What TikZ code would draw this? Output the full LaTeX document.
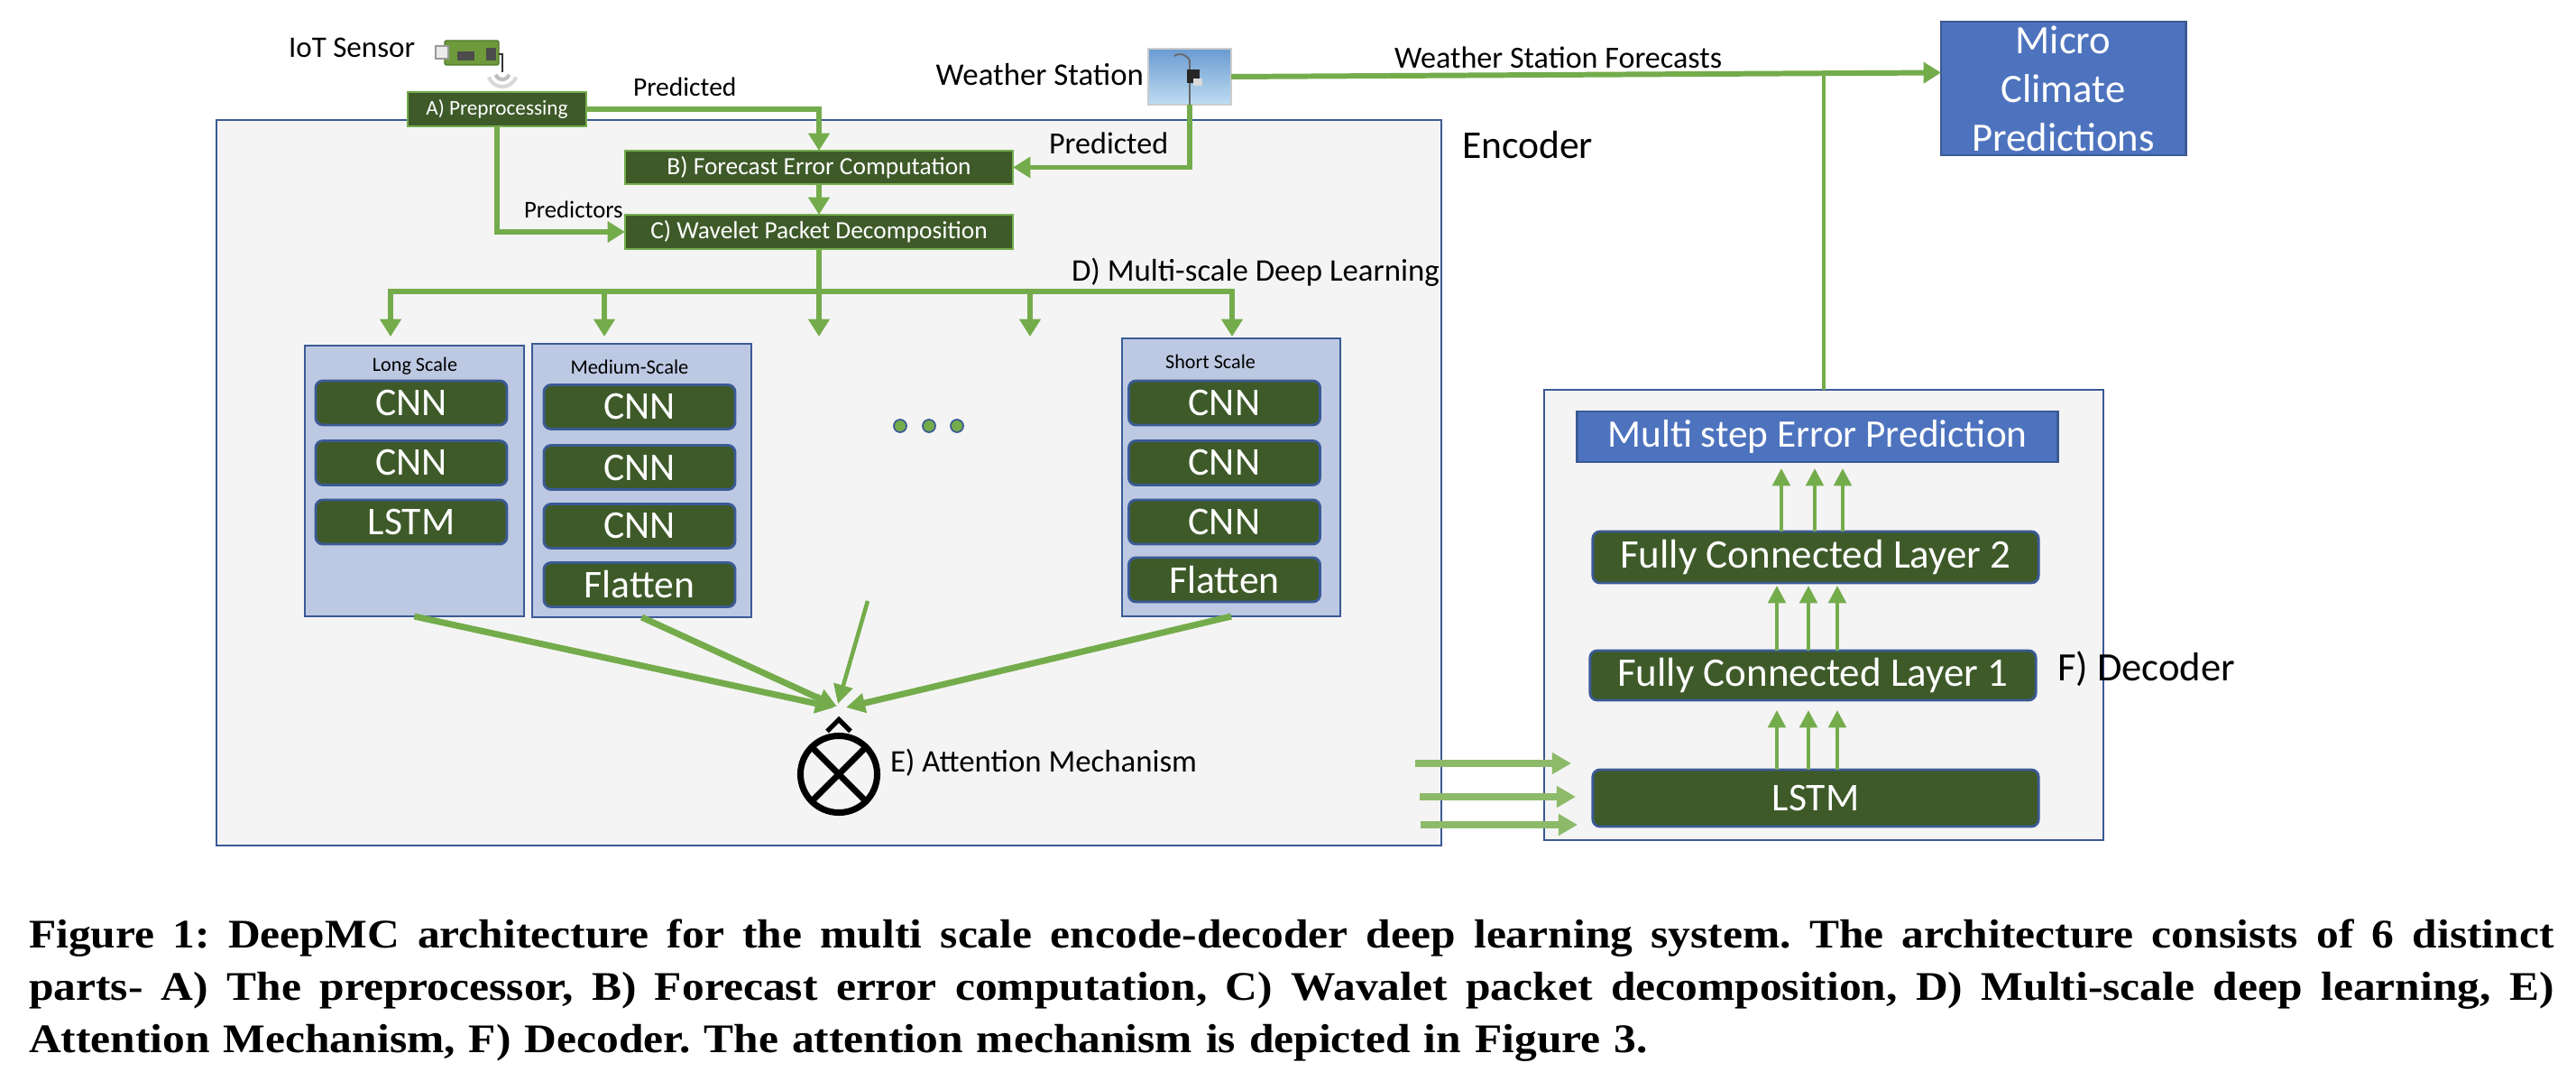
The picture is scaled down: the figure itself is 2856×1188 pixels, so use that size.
\documentclass[tikz,border=0pt]{standalone}
\usepackage{fontspec}
\setmainfont{Carlito}
\newfontfamily\captionfont[FakeStretch=1.10]{Liberation Serif}
\usepackage{tikz}
\usetikzlibrary{arrows.meta, positioning, calc}

\definecolor{arrowgreen}{HTML}{74AC4C}
\definecolor{inputgreen}{HTML}{8CBA69}
\definecolor{layergreen}{HTML}{3E5A29}
\definecolor{frameblue}{HTML}{3B5A95}
\definecolor{boxblue}{HTML}{4E73BE}
\definecolor{scalefill}{HTML}{BDC9E3}
\definecolor{panelgray}{HTML}{F4F4F4}
\definecolor{skytop}{HTML}{6A9BD1}
\definecolor{skybottom}{HTML}{BFDDF2}
\definecolor{boardgreen}{HTML}{6E9A3C}
\definecolor{boardedge}{HTML}{4E7A2A}

\newcommand{\fsz}[1]{\fontsize{#1}{#1}\selectfont}
\newcommand{\capline}[1]{\leavevmode\hbox to 27.98cm{\spaceskip=0pt\xspaceskip=0pt #1}}

\begin{document}
\begin{tikzpicture}[x=0.01cm, y=-0.01cm,
  every node/.style={inner sep=0pt, outer sep=0pt},
  panel/.style={draw=frameblue, line width=0.6pt, fill=panelgray},
  stagebox/.style={draw=arrowgreen, line width=0.6pt, fill=layergreen, text=white},
  scalebox/.style={draw=frameblue, line width=0.8pt, fill=scalefill},
  layerbox/.style={draw=frameblue, line width=0.8pt, fill=layergreen, text=white,
    rounded corners=0.08cm, minimum width=2.12cm, minimum height=0.49cm, font=\fsz{12.4}},
  bluebox/.style={draw=frameblue, line width=0.8pt, fill=boxblue, text=white},
  dotmark/.style={circle, draw=frameblue, line width=0.5pt, fill=arrowgreen, minimum size=0.14cm},
  flow/.style={draw=arrowgreen, line width=1.7pt, -{Triangle[width=6.5pt, length=5.5pt]}},
  flowboth/.style={draw=arrowgreen, line width=1.7pt, {Triangle[width=6.5pt, length=5.5pt]}-{Triangle[width=6.5pt, length=5.5pt]}},
  fanin/.style={draw=arrowgreen, line width=2pt, -{Triangle[width=6pt, length=6pt]}},
  up/.style={draw=arrowgreen, line width=1.2pt, -{Triangle[width=5.5pt, length=5.5pt]}},
  inflow/.style={draw=inputgreen, line width=2pt, -{Triangle[width=6.5pt, length=6pt]}},
  joinline/.style={draw=arrowgreen, line width=1pt},
  lbl/.style={anchor=base west}]

  \path[use as bounding box, fill=white] (0,0) rectangle (2856,1188);

  % Panels
  \node[panel, minimum width=13.58cm, minimum height=8.04cm] (enc) at (919,535) {};
  \node[panel, minimum width=6.20cm, minimum height=4.99cm] (dec) at (2022,681.5) {};
  \node[lbl, font=\fsz{12.4}] (enclbl) at (1621,176) {Encoder};

  % Sources
  \node[lbl, font=\fsz{9.4}] (iotlbl) at (320,64) {IoT Sensor};
  \draw[fill=boardgreen, draw=boardedge, rounded corners=0.02cm] (493,45) rectangle (553,72);
  \draw[fill=black!8, draw=black!40] (483,51) rectangle (497,65);
  \fill[black!70] (507,57) rectangle (526,67);
  \fill[black!70] (539,53) rectangle (550,67);
  \draw[black!80, line width=0.6pt] (553,60) -- (557,60) -- (557,80);
  \draw[black!25, line width=1.2pt] (557,80) ++(200:0.08cm) arc[start angle=200, end angle=340, radius=0.08cm];
  \draw[black!15, line width=1.2pt] (557,80) ++(200:0.16cm) arc[start angle=200, end angle=340, radius=0.16cm];

  \node[anchor=base east, font=\fsz{9.9}] (wslbl) at (1268,95) {Weather Station};
  \node[draw=black!20, line width=0.4pt, top color=skytop, bottom color=skybottom,
    minimum width=0.92cm, minimum height=0.62cm] (ws) at (1319,85) {};
  \draw[black!60, line width=0.5pt] (1319,116) -- (1319,67) .. controls (1315,60) and (1308,58) .. (1302,62);
  \fill[black!85] (1316,77) rectangle (1330,92);
  \fill[black!15] (1323,87) rectangle (1333,95);

  \node[bluebox, align=center, minimum width=2.71cm, minimum height=1.48cm,
    font=\fontsize{12.7}{15.4}\selectfont] (micro) at (2287.5,98) {Micro\\Climate\\Predictions};

  % Encoder stages
  \node[stagebox, minimum width=1.98cm, minimum height=0.38cm, font=\fsz{6.6}] (prep) at (551,121) {A) Preprocessing};
  \node[stagebox, minimum width=4.30cm, minimum height=0.37cm, font=\fsz{7.8}] (fec) at (908,185.5) {B) Forecast Error Computation};
  \node[stagebox, minimum width=4.30cm, minimum height=0.38cm, font=\fsz{7.8}] (wpd) at (908,257) {C) Wavelet Packet Decomposition};

  \node[lbl, font=\fsz{8.4}] (predtop) at (702,107) {Predicted};
  \node[lbl, font=\fsz{9.7}] (predws) at (1163,171) {Predicted};
  \node[lbl, font=\fsz{7.6}] (predictors) at (581,242) {Predictors};
  \node[lbl, font=\fsz{9.7}] (fclbl) at (1546,76) {Weather Station Forecasts};
  \node[lbl, font=\fsz{9.9}] (dlbl) at (1188,311) {D) Multi-scale Deep Learning};

  % Scales
  \node[scalebox, minimum width=2.43cm, minimum height=3.00cm] (long) at (459.5,533) {};
  \node[scalebox, minimum width=2.43cm, minimum height=3.03cm] (medium) at (711.5,532.5) {};
  \node[scalebox, minimum width=2.42cm, minimum height=3.08cm] (short) at (1365,529) {};
  \node[anchor=base, font=\fsz{6.3}] (longlbl) at (460,412) {Long Scale};
  \node[anchor=base, font=\fsz{6.4}] (medlbl) at (698,414) {Medium-Scale};
  \node[anchor=base, font=\fsz{6.3}] (shortlbl) at (1342,409) {Short Scale};

  \node[layerbox] (lcnn1) at (456,446.5) {CNN};
  \node[layerbox] (lcnn2) at (456,513) {CNN};
  \node[layerbox] (llstm) at (456,578.5) {LSTM};
  \node[layerbox] (mcnn1) at (709,451) {CNN};
  \node[layerbox] (mcnn2) at (709,518) {CNN};
  \node[layerbox] (mcnn3) at (709,583) {CNN};
  \node[layerbox] (mflat) at (709,648) {Flatten};
  \node[layerbox] (scnn1) at (1357.5,446.5) {CNN};
  \node[layerbox] (scnn2) at (1357.5,513) {CNN};
  \node[layerbox] (scnn3) at (1357.5,578.5) {CNN};
  \node[layerbox] (sflat) at (1357.5,642.5) {Flatten};

  \node[dotmark] (dot1) at (998,472) {};
  \node[dotmark] (dot2) at (1030,472) {};
  \node[dotmark] (dot3) at (1061,472) {};

  % Attention
  \node[circle, draw=black, line width=2pt, minimum size=0.85cm] (att) at (930,858) {};
  \draw[line width=2pt] (att.north west) -- (att.south east);
  \draw[line width=2pt] (att.north east) -- (att.south west);
  \draw[line width=1.5pt] ([shift={(-13,-5)}]att.north) -- ([shift={(0,-18)}]att.north) -- ([shift={(13,-5)}]att.north);
  \node[lbl, font=\fsz{9.9}] (attlbl) at (987,855) {E) Attention Mechanism};

  % Decoder
  \node[bluebox, minimum width=5.32cm, minimum height=0.56cm, font=\fsz{12.3}] (msep) at (2015,484) {Multi step Error Prediction};
  \node[layerbox, minimum width=4.94cm, minimum height=0.57cm, font=\fsz{12.8}] (fc2) at (2013,617.5) {Fully Connected Layer 2};
  \node[layerbox, minimum width=4.94cm, minimum height=0.55cm, font=\fsz{12.8}] (fc1) at (2010,748.5) {Fully Connected Layer 1};
  \node[layerbox, minimum width=4.94cm, minimum height=0.63cm] (dlstm) at (2013,884.5) {LSTM};
  \node[lbl, font=\fsz{12.7}] (declbl) at (2281,754) {F) Decoder};

  % Connectors
  \draw[flow] (prep.east) -| (fec.north);
  \draw[flow] (fec.south) -- (wpd.north);
  \draw[flow] (prep.south) |- (wpd.west);
  \draw[flow] (ws.south) |- (fec.east);
  \draw[flow] (ws.east) -- ([yshift=0.175cm]micro.west);
  \coordinate (fcjoin) at (2022,81.5);
  \draw[joinline] (dec.north) -- (fcjoin);

  \coordinate (busL) at (433,323);
  \coordinate (drop1) at (433,373);
  \coordinate (drop2) at (670,373);
  \coordinate (drop3) at (908,373);
  \coordinate (drop4) at (1142,373);
  \coordinate (drop5) at (1366,373);
  \draw[flowboth] (drop1) |- (busL -| drop5) -- (drop5);
  \draw[flow] (wpd.south) -- (drop3);
  \draw[flow] (drop2 |- busL) -- (drop2);
  \draw[flow] (drop4 |- busL) -- (drop4);

  \coordinate (attL) at (925,784);
  \coordinate (attM) at (928,783);
  \coordinate (attC) at (929,780);
  \coordinate (attR) at (938,784);
  \coordinate (more) at (962,666);
  \draw[fanin] (long.south) -- (attL);
  \draw[fanin] (medium.south) -- (attM);
  \draw[fanin, line width=1.3pt] (more) -- (attC);
  \draw[fanin] (short.south) -- (attR);

  \foreach \dx in {-38,-1,30}
    \draw[up] ([xshift=\dx*0.01cm]fc2.north) -- ([xshift=\dx*0.01cm, yshift=-0.07cm]fc2.north |- msep.south);
  \foreach \dx in {-40,-5,27}
    \draw[up] ([xshift=\dx*0.01cm]fc1.north) -- ([xshift=\dx*0.01cm, yshift=-0.03cm]fc1.north |- fc2.south);
  \foreach \dx in {-43,-8,24}
    \draw[up] ([xshift=\dx*0.01cm]dlstm.north) -- ([xshift=\dx*0.01cm, yshift=-0.11cm]dlstm.north |- fc1.south);

  \coordinate (in1) at (1569,846);
  \coordinate (in2) at (1574,883);
  \coordinate (in3) at (1575,914);
  \draw[inflow] (in1) -- (1742,846);
  \draw[inflow] (in2) -- (1747,883);
  \draw[inflow] (in3) -- (1749,914);

  % Caption
  \node[anchor=base west, text width=27.98cm, align=left,
    font=\captionfont\bfseries\frenchspacing\fontsize{12.8}{16.5}\selectfont] (caption) at (32,1050)
    {\capline{Figure 1: DeepMC architecture for the multi scale encode-decoder deep learning system. The architecture consists of 6 distinct}\\
     \capline{parts- A) The preprocessor, B) Forecast error computation, C) Wavalet packet decomposition, D) Multi-scale deep learning, E)}\\
     Attention Mechanism, F) Decoder. The attention mechanism is depicted in Figure 3.};
\end{tikzpicture}
\end{document}
